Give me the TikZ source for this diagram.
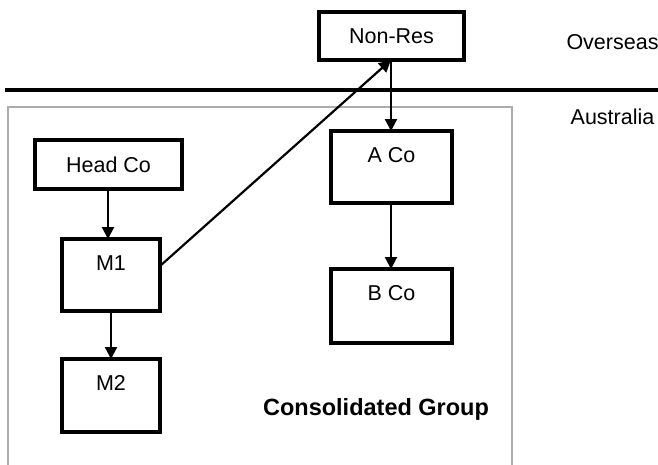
\documentclass[tikz,border=0pt]{standalone}
\usepackage{fontspec}
\setmainfont{Liberation Sans}
\usetikzlibrary{arrows.meta}
\begin{document}
\begin{tikzpicture}[x=1pt,y=-1pt,
  box/.style={draw,line width=3.2pt,inner sep=0pt},
  lbl/.style={font=\fontsize{21.5pt}{24pt}\selectfont,inner sep=0pt},
  arr/.style={line width=2.2pt,-{Triangle[length=12pt,width=12pt]}}]
\useasboundingbox (0,0) rectangle (658,464);
% divider and group box
\draw[line width=4pt] (5,90) -- (658,90);
\draw[line width=2.6pt,gray!65] (8,470) -- (8,107) -- (512,107) -- (512,470);
% boxes
\draw[box] (319,12) rectangle (464,60);
\node[lbl] (nonres) at (391.5,36) {Non-Res};
\coordinate (nrb) at (391,60);
\draw[box] (35,140) rectangle (182,189);
\node[lbl] (head) at (108.5,164.5) {Head Co};
\draw[box] (62,239) rectangle (160,311);
\node[lbl] (m1) at (111,263) {M1};
\draw[box] (62,359) rectangle (160,432);
\node[lbl] (m2) at (111,383) {M2};
\draw[box] (331,131) rectangle (452,203);
\node[lbl] (aco) at (391.5,155) {A Co};
\draw[box] (331,269) rectangle (452,343);
\node[lbl] (bco) at (391.5,293) {B Co};
% anchor coordinates
\coordinate (headb) at (108,189);
\coordinate (m1t) at (108,239);
\coordinate (m1b) at (111,311);
\coordinate (m2t) at (111,359);
\coordinate (m1r) at (160,266);
\coordinate (acot) at (391,131);
\coordinate (acob) at (391,203);
\coordinate (bcot) at (391,269);
% arrows
\draw[arr] (headb) -- (m1t);
\draw[arr] (m1b) -- (m2t);
\draw[arr] (m1r) -- (nrb);
\draw[arr] (nrb) -- (acot);
\draw[arr] (acob) -- (bcot);
% labels
\node[lbl] (overseas) at (612.5,42) {Overseas};
\node[lbl] (australia) at (612.5,117) {Australia};
\node[font=\fontsize{23.5pt}{27pt}\selectfont\bfseries,inner sep=0pt] (cg) at (376,409) {Consolidated Group};
\end{tikzpicture}
\end{document}
